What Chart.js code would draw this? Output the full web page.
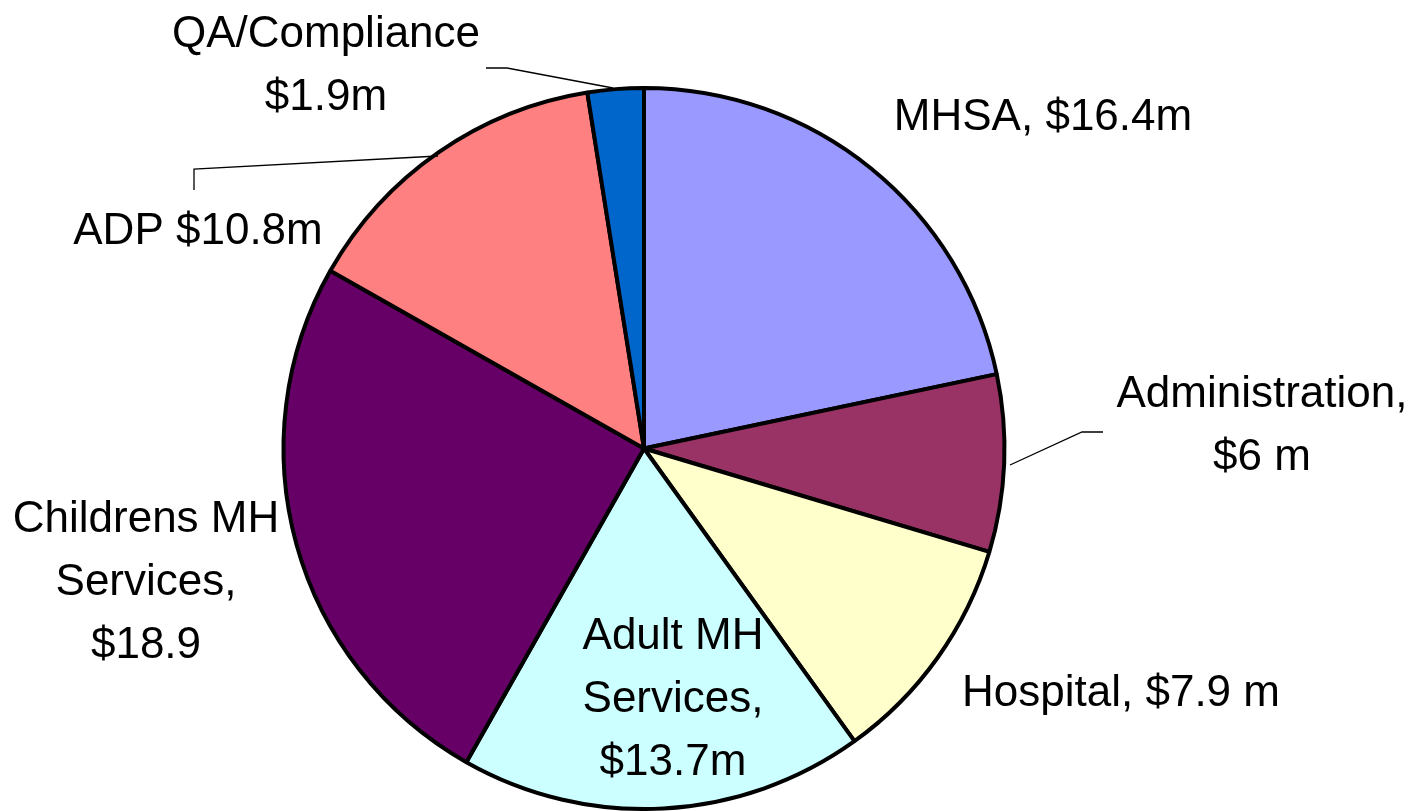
<!DOCTYPE html>
<html>
<head>
    <title>Budget pie</title>
    <script src="https://cdn.jsdelivr.net/npm/chart.js@4/dist/chart.umd.min.js"></script>
    <style>
        body { margin: 0; background: #fff; }
        #holder { width: 1418px; height: 811px; }
    </style>
</head>
<body>
    <div id="holder">
        <canvas id="chart-area"></canvas>
    </div>

    <script>
        // data, clockwise from 12 o'clock
        var categories = ['MHSA', 'Administration', 'Hospital', 'Adult MH Services', 'Childrens MH Services', 'ADP', 'QA/Compliance'];
        var amounts = [16.4, 6, 7.9, 13.7, 18.9, 10.8, 1.9];
        var colours = ['#9999FF', '#993366', '#FFFFCC', '#CCFFFF', '#660066', '#FF8080', '#0066CC'];

        // label text as on the original slide (lines, centre x, first line middle y)
        var labelText = [
            { lines: ['MHSA, $16.4m'], x: 1043, y: 118 },
            { lines: ['Administration,', '$6 m'], x: 1262, y: 395 },
            { lines: ['Hospital, $7.9 m'], x: 1121, y: 694 },
            { lines: ['Adult MH', 'Services,', '$13.7m'], x: 673, y: 637 },
            { lines: ['Childrens MH', 'Services,', '$18.9'], x: 146, y: 520 },
            { lines: ['ADP $10.8m'], x: 198, y: 232 },
            { lines: ['QA/Compliance', '$1.9m'], x: 326, y: 35 }
        ];

        // leader lines
        var leaders = [
            [[486, 68], [507, 68], [613, 88]],
            [[194, 190], [194, 169], [438, 156]],
            [[1010, 465], [1082, 432], [1103, 432]]
        ];

        var labelPlugin = {
            id: 'sliceLabels',
            afterDraw: function(chart) {
                var ctx = chart.ctx;
                ctx.save();
                ctx.strokeStyle = '#000';
                ctx.lineWidth = 1.3;
                leaders.forEach(function(pts) {
                    ctx.beginPath();
                    ctx.moveTo(pts[0][0], pts[0][1]);
                    for (var i = 1; i < pts.length; i++) ctx.lineTo(pts[i][0], pts[i][1]);
                    ctx.stroke();
                });
                ctx.fillStyle = '#000';
                ctx.font = '44px "Liberation Sans", Arial, sans-serif';
                ctx.textAlign = 'center';
                ctx.textBaseline = 'middle';
                labelText.forEach(function(l) {
                    for (var i = 0; i < l.lines.length; i++) {
                        ctx.fillText(l.lines[i], l.x, l.y + i * 63);
                    }
                });
                ctx.restore();
            }
        };

        window.onload = function() {
            var ctx = document.getElementById('chart-area').getContext('2d');
            window.myPie = new Chart(ctx, {
                type: 'pie',
                data: {
                    labels: categories,
                    datasets: [{
                        data: amounts,
                        backgroundColor: colours,
                        borderColor: '#000',
                        borderWidth: 4
                    }]
                },
                options: {
                    responsive: true,
                    maintainAspectRatio: false,
                    animation: false,
                    layout: { padding: { top: 86, bottom: -3, left: 0, right: 130 } },
                    plugins: {
                        legend: { display: false },
                        tooltip: { enabled: false }
                    }
                },
                plugins: [labelPlugin]
            });
        };
    </script>
</body>
</html>
